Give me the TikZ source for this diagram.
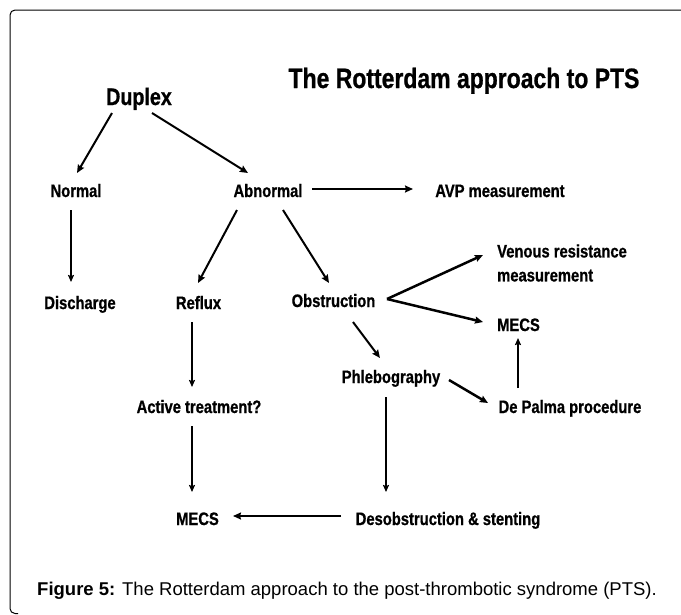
\documentclass[tikz,border=0pt]{standalone}
\usepackage{fontspec}
\setmainfont{Liberation Sans}
\newfontfamily\cond[FakeStretch=0.82,BoldFeatures={FakeBold=0.8}]{Liberation Sans}
\usetikzlibrary{arrows.meta}
\begin{document}
\begin{tikzpicture}[x=1pt,y=-1pt,
  lab/.style={inner sep=0pt,anchor=base,font=\cond\bfseries\fontsize{18}{24}\selectfont},
  arr/.style={line width=2pt,-{Stealth[length=8pt,width=7pt,inset=1pt]}},
  varr/.style={line width=1.5pt,-{Stealth[length=7pt,width=6pt,inset=1pt]}},
  harr/.style={line width=2.5pt,-{Stealth[length=8pt,width=7pt,inset=1pt]}}]
\useasboundingbox (0,0) rectangle (681,614);
\fill[white] (0,0) rectangle (681,614);
% frame
\draw[line width=1pt,rounded corners=5pt] (685,10) -- (10,10) -- (10,613.5) -- (18,613.5);
% title
\node[inner sep=0pt,anchor=base,font=\cond\bfseries\fontsize{28}{32}\selectfont] (title) at (464,88) {The Rotterdam approach to PTS};
% nodes
\node[lab,font=\cond\bfseries\fontsize{24}{28}\selectfont] (dup) at (139,105) {Duplex};
\node[lab] (norm) at (76,197) {Normal};
\node[lab] (abn) at (268,197) {Abnormal};
\node[lab] (avp) at (500,197) {AVP measurement};
\node[lab] (dis) at (80,309) {Discharge};
\node[lab] (ref) at (198.5,309) {Reflux};
\node[lab] (obs) at (333.5,307) {Obstruction};
\node[lab,anchor=west,align=left] (ven) at (497,263) {Venous resistance\\measurement};
\node[lab] (mecsr) at (518.5,331) {MECS};
\node[lab] (phl) at (391,383) {Phlebography};
\node[lab] (dep) at (570,413) {De Palma procedure};
\node[lab] (act) at (199,413) {Active treatment?};
\node[lab] (mecsl) at (197.5,525) {MECS};
\node[lab] (des) at (448,525) {Desobstruction \& stenting};
% caption
\node[inner sep=0pt,anchor=base west,font=\fontsize{18.5}{22}\selectfont] (cap) at (37,595) {\textbf{Figure 5:} The Rotterdam approach to the post-thrombotic syndrome (PTS).};
% connectors
\draw[arr] ([shift={(-27,8)}]dup.base) -- ([shift={(1,-24)}]norm.base);
\draw[arr] ([shift={(13,8)}]dup.base) -- ([shift={(-20,-24)}]abn.base);
\draw[harr] ([shift={(44,-8)}]abn.base) -- ([shift={(-87,-8)}]avp.base);
\draw[varr] ([shift={(-5,13)}]norm.base) -- ([shift={(-9,-27)}]dis.base);
\draw[arr] ([shift={(-31,13)}]abn.base) -- ([shift={(-0.5,-26)}]ref.base);
\draw[arr] ([shift={(15,13)}]abn.base) -- ([shift={(-4.5,-24)}]obs.base);
\draw[varr] ([shift={(-6.5,13)}]ref.base) -- ([shift={(-7,-26)}]act.base);
\draw[varr] ([shift={(-7,13)}]act.base) -- ([shift={(-5.5,-33)}]mecsl.base);
\draw[harr] ([shift={(53.5,-8)}]obs.base) -- ([shift={(-14,-8)}]ven.west);
\draw[harr] ([shift={(53.5,-8)}]obs.base) -- ([shift={(-35.5,-9)}]mecsr.base);
\draw[arr] ([shift={(19.5,15)}]obs.base) -- ([shift={(-11,-25)}]phl.base);
\draw[harr] ([shift={(58,-3)}]phl.base) -- ([shift={(-82,-10)}]dep.base);
\draw[varr] ([shift={(-52,-25)}]dep.base) -- ([shift={(-0.5,7)}]mecsr.base);
\draw[varr] ([shift={(-5,14)}]phl.base) -- ([shift={(-62,-33)}]des.base);
\draw[harr] ([shift={(-107,-9)}]des.base) -- ([shift={(35.5,-9)}]mecsl.base);
\end{tikzpicture}
\end{document}
